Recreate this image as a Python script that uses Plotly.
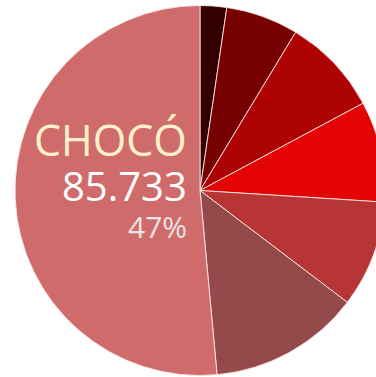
import plotly.graph_objects as go

# Casos por departamento, del menor al mayor (se dibujan en sentido horario desde las 12)
departamentos = ["RISARALDA", "CÓRDOBA", "NARIÑO", "CAUCA", "VALLE DEL CAUCA", "ANTIOQUIA", "CHOCÓ"]
casos = [3860, 10550, 14210, 14690, 15550, 21980, 85733]
colores = ["#330000", "#770000", "#AE0303", "#E50404", "#B73535", "#944A4A", "#D06B6B"]

# Total general de referencia sobre el que se calcula la participación
total_general = 182400

destacado = departamentos.index("CHOCÓ")  # departamento rotulado


def miles(v):
    return f"{v:,}".replace(",", ".")


W, H = 400, 377

fig = go.Figure(
    go.Pie(
        labels=departamentos,
        values=casos,
        marker=dict(colors=colores, line=dict(color="rgba(255,235,235,0.85)", width=1)),
        sort=False,
        direction="clockwise",
        rotation=0,
        textinfo="none",
        hoverinfo="label+value+percent",
        showlegend=False,
        domain=dict(x=[15 / W, 385 / W], y=[1.5 / H, 371.5 / H]),
    )
)

etiqueta = departamentos[destacado]
valor = miles(casos[destacado])
porcentaje = f"{casos[destacado] / total_general:.0%}"

fuente = "Open Sans"
x_der = 189 / W
fig.add_annotation(x=x_der, y=1 - 139 / H, xref="paper", yref="paper", xanchor="right", yanchor="middle",
                   text=etiqueta, showarrow=False, font=dict(family=fuente, size=43, color="#FFF1C9"))
fig.add_annotation(x=x_der, y=1 - 185 / H, xref="paper", yref="paper", xanchor="right", yanchor="middle",
                   text=valor, showarrow=False, font=dict(family=fuente, size=40, color="#FFFFFF"))
fig.add_annotation(x=x_der, y=1 - 226 / H, xref="paper", yref="paper", xanchor="right", yanchor="middle",
                   text=porcentaje, showarrow=False, font=dict(family=fuente, size=30, color="#E8E4E4"))

fig.update_layout(
    width=W,
    height=H,
    margin=dict(l=0, r=0, t=0, b=0),
    paper_bgcolor="white",
    plot_bgcolor="white",
    separators=",.",
)

fig.write_html(
    "out.html",
    config={"displayModeBar": False},
    post_script="document.documentElement.style.overflow='hidden';document.body.style.overflow='hidden';",
)
